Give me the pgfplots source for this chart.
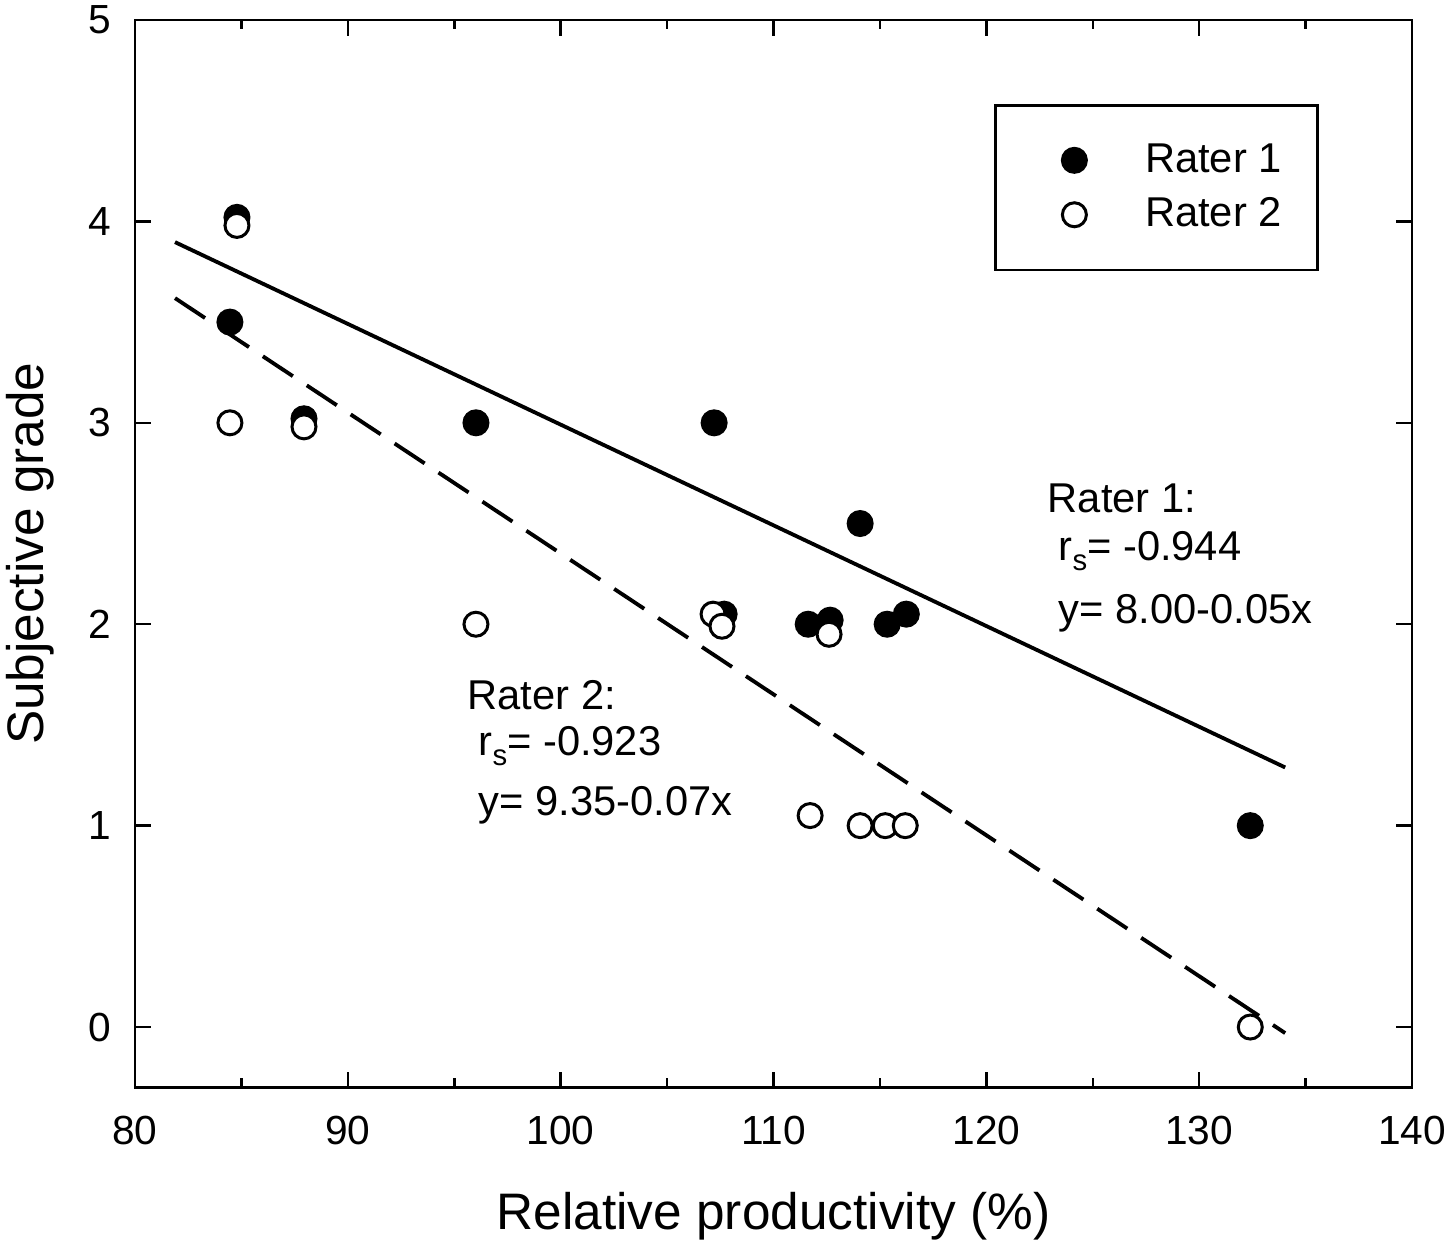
\documentclass[border=0pt]{standalone}
\usepackage{fontspec}
\setmainfont{Liberation Sans}
\usepackage{pgfplots}
\pgfplotsset{compat=1.18}
\pgfplotsset{myimg/.style={legend image code/.code={\path[draw=none,fill=none] (-12.9pt,0pt) rectangle (21.2pt,8pt); \draw[##1] plot coordinates {(0pt,3.6pt)};}}}
\begin{document}
\begin{tikzpicture}
\begin{axis}[
  scale only axis, width=383.1pt, height=320.25pt,
  xmin=80, xmax=140, ymin=-0.3, ymax=5,
  xtick={80,90,...,140}, minor xtick={85,95,...,135},
  ytick={0,1,...,5},
  tick align=inside,
  major tick length=4.7pt, minor tick length=2.7pt,
  every tick/.style={black, line width=0.75pt},
  axis line style={line width=0.8pt},
  /pgf/number format/assume math mode=true,
  ticklabel style={font=\fontsize{12.2}{14}\selectfont, inner sep=0pt},
  xticklabel style={anchor=north, yshift=-8.4pt},
  yticklabel style={anchor=east, xshift=-6.9pt},
  xlabel={Relative productivity (\%)},
  ylabel={Subjective grade},
  every axis x label/.style={at={(axis description cs:0.5,0)}, anchor=base, yshift=-42.75pt, inner sep=0pt, font=\fontsize{15.4}{18}\selectfont},
  every axis y label/.style={at={(axis description cs:-0.07204,0.5)}, anchor=base, rotate=90, inner sep=0pt, font=\fontsize{15.4}{18}\selectfont},
  legend style={at={(0.6727,0.9213)}, anchor=north west, draw=black, line width=0.8pt,
    inner xsep=10.8pt, inner ysep=11.5pt, row sep=6.1pt, column sep=0pt,
    nodes={inner sep=0pt, font=\fontsize{12.5}{14}\selectfont},
    cells={anchor=base west}},
]
% regression lines
\addplot[black, line width=1.15pt, no marks, forget plot] coordinates {(81.88,3.897) (134.04,1.289)};
\addplot[black, line width=1.15pt, no marks, dash pattern=on 10.8pt off 5pt, forget plot] coordinates {(81.88,3.619) (134.04,-0.03)};
% Rater 1
\addplot[only marks, mark=*, mark size=3.6pt, mark options={fill=black, draw=black, line width=0.9pt, solid}, myimg]
  coordinates {
  (84.79,4.02) (84.46,3.50) (87.94,3.02) (96.02,3.00) (107.21,3.00) (107.68,2.05)
  (111.63,2.00) (112.66,2.02) (114.07,2.50) (115.34,2.00) (116.24,2.05) (132.40,1.00)
  };
\addlegendentry{Rater 1}
% Rater 2
\addplot[only marks, mark=*, mark size=3.6pt, mark options={fill=white, draw=black, line width=0.9pt, solid}, myimg]
  coordinates {
  (84.79,3.98) (84.46,3.00) (87.94,2.98) (96.02,2.00) (107.16,2.05) (107.58,1.99)
  (111.72,1.05) (112.61,1.95) (114.07,1.00) (115.25,1.00) (116.19,1.00) (132.40,0.00)
  };
\addlegendentry{Rater 2}
% annotations
\node[anchor=base west, inner sep=0pt, font=\fontsize{12.5}{14}\selectfont] at (axis cs:122.86,2.553) {Rater 1:};
\node[anchor=base west, inner sep=0pt, font=\fontsize{12.5}{14}\selectfont] at (axis cs:123.37,2.315) {r\raisebox{-3pt}{\fontsize{8.8}{9}\selectfont s}= -0.944};
\node[anchor=base west, inner sep=0pt, font=\fontsize{12.5}{14}\selectfont] at (axis cs:123.37,2.003) {y= 8.00-0.05x};
\node[anchor=base west, inner sep=0pt, font=\fontsize{12.5}{14}\selectfont] at (axis cs:95.6,1.577) {Rater 2:};
\node[anchor=base west, inner sep=0pt, font=\fontsize{12.5}{14}\selectfont] at (axis cs:96.12,1.349) {r\raisebox{-3pt}{\fontsize{8.8}{9}\selectfont s}= -0.923};
\node[anchor=base west, inner sep=0pt, font=\fontsize{12.5}{14}\selectfont] at (axis cs:96.12,1.051) {y= 9.35-0.07x};
\coordinate (LL) at (rel axis cs:0,0);
\coordinate (UR) at (rel axis cs:1,1);
\end{axis}
\pgfresetboundingbox
\path[use as bounding box] ([xshift=-40.5pt,yshift=-48.15pt]LL) rectangle ([xshift=9.9pt,yshift=6pt]UR);
\end{tikzpicture}
\end{document}
